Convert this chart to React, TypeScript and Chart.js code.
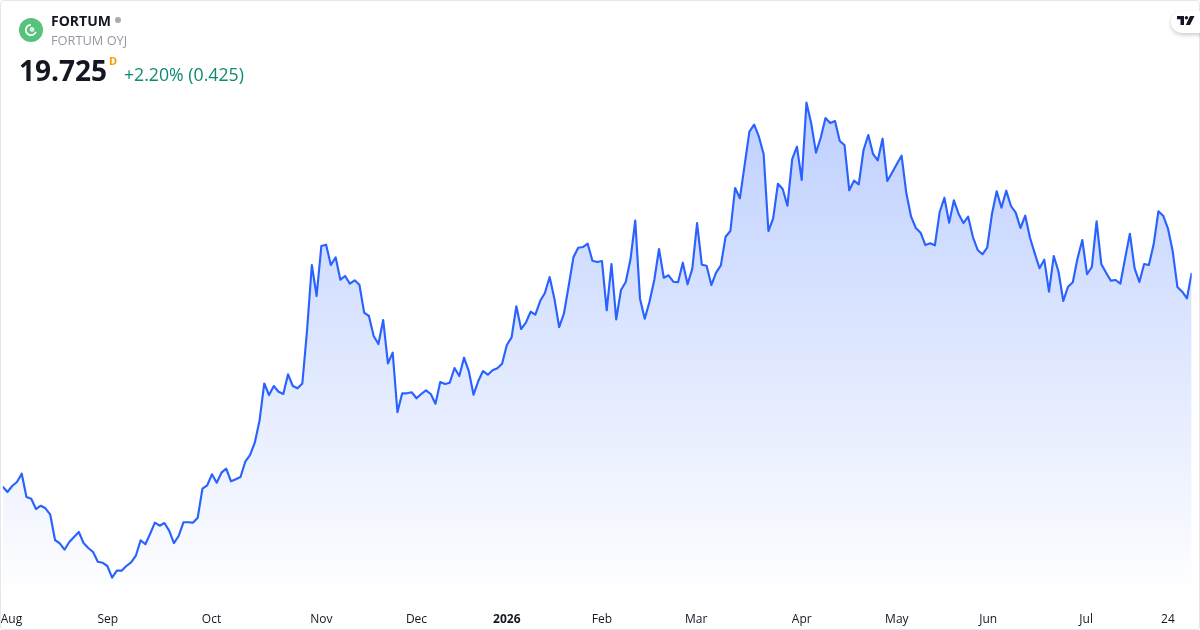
import React, { useEffect, useRef } from "react";
import { Chart, registerables } from "chart.js";

Chart.register(...registerables);

const SYMBOL = "FORTUM";
const COMPANY = "FORTUM OYJ";
const LAST_PRICE = "19.725";
const INTERVAL = "D";
const CHANGE = "+2.20% (0.425)";

const tickLabels = ["Aug", "Sep", "Oct", "Nov", "Dec", "2026", "Feb", "Mar", "Apr", "May", "Jun", "Jul", "24"];
const tickSessions = [1.85, 22.1, 43.9, 67, 87, 106, 126, 145.8, 168, 188, 207.2, 227.8, 245];

const prices2025Aug = [16.003, 15.91, 16.015, 16.085, 16.23, 15.822, 15.793, 15.612, 15.67, 15.625, 15.513, 15.07, 15.012, 14.9, 15.035, 15.122, 15.21, 15.017, 14.93, 14.86, 14.69, 14.673];
const prices2025Sep = [14.615, 14.41, 14.533, 14.533, 14.615, 14.68, 14.795, 15.065, 14.995, 15.18, 15.373, 15.32, 15.367, 15.233, 15.017, 15.14, 15.38, 15.38, 15.373, 15.46, 15.968, 16.027];
const prices2025Oct = [16.22, 16.073, 16.248, 16.318, 16.097, 16.132, 16.172, 16.44, 16.557, 16.773, 17.158, 17.809, 17.607, 17.765, 17.665, 17.625, 17.97, 17.765, 17.725, 17.809, 18.745, 19.882, 19.34];
const prices2025Nov = [20.215, 20.238, 19.882, 20.017, 19.625, 19.69, 19.555, 19.615, 19.538, 19.048, 18.99, 18.64, 18.5, 18.92, 18.162, 18.348, 17.305, 17.637, 17.637, 17.655];
const prices2025Dec = [17.55, 17.625, 17.69, 17.625, 17.455, 17.835, 17.8, 17.823, 18.08, 17.94, 18.26, 18.027, 17.613, 17.852, 18.027, 17.963, 18.04, 18.075, 18.155];
const prices2026Jan = [18.482, 18.617, 19.16, 18.762, 18.873, 19.065, 19.013, 19.252, 19.392, 19.672, 19.293, 18.797, 19.03, 19.515, 20.017, 20.185, 20.197, 20.255, 19.958, 19.935];
const prices2026Feb = [19.952, 19.09, 19.9, 18.932, 19.445, 19.585, 19.982, 20.658, 19.293, 18.943, 19.24, 19.62, 20.162, 19.66, 19.702, 19.59, 19.58, 19.923, 19.545, 19.818];
const prices2026Mar = [20.617, 19.888, 19.87, 19.532, 19.748, 19.877, 20.378, 20.477, 21.23, 21.05, 21.632, 22.215, 22.338, 22.128, 21.82, 20.477, 20.7, 21.305, 21.212, 20.92, 21.737, 21.953];
const prices2026Apr = [21.37, 22.723, 22.362, 21.848, 22.11, 22.455, 22.367, 22.402, 22.052, 21.982, 21.19, 21.358, 21.295, 21.895, 22.157, 21.825, 21.715, 22.093, 21.352, 21.498];
const prices2026May = [21.65, 21.795, 21.137, 20.728, 20.53, 20.448, 20.232, 20.262, 20.227, 20.805, 21.06, 20.623, 21.015, 20.775, 20.617, 20.728, 20.372, 20.145, 20.07];
const prices2026Jun = [20.185, 20.775, 21.172, 20.885, 21.183, 20.915, 20.798, 20.53, 20.745, 20.36, 20.087, 19.825, 19.975, 19.415, 20.04, 19.765, 19.252, 19.503, 19.58, 20.0, 20.32];
const prices2026Jul = [19.72, 19.847, 20.647, 19.895, 19.748, 19.608, 19.62, 19.555, 20.0, 20.43, 19.825, 19.585, 19.9, 19.882, 20.245, 20.822, 20.745, 20.525, 20.127, 19.497, 19.415, 19.3, 19.745];

const closes = [
  ...prices2025Aug, ...prices2025Sep, ...prices2025Oct, ...prices2025Nov, ...prices2025Dec,
  ...prices2026Jan, ...prices2026Feb, ...prices2026Mar, ...prices2026Apr, ...prices2026May,
  ...prices2026Jun, ...prices2026Jul,
];

const LINE = "#2962ff";
const FONT = '"Open Sans", sans-serif';

export default function App() {
  const ref = useRef<HTMLCanvasElement | null>(null);

  useEffect(() => {
    document.body.style.margin = "0";
    const canvas = ref.current;
    if (!canvas) return;
    const chart = new Chart(canvas, {
      type: "line",
      data: {
        datasets: [
          {
            data: closes.map((y, x) => ({ x, y })),
            borderColor: LINE,
            borderWidth: 2.15,
            pointRadius: 0,
            tension: 0,
            fill: "start",
            borderJoinStyle: "round",
            backgroundColor: (ctx: any) => {
              const { chart: c } = ctx;
              const area = c.chartArea;
              if (!area) return "rgba(41,98,255,0.1)";
              const top = c.scales.y.getPixelForValue(Math.max(...closes));
              const g = c.ctx.createLinearGradient(0, top, 0, area.bottom);
              g.addColorStop(0, "rgba(41,98,255,0.3)");
              g.addColorStop(1, "rgba(41,98,255,0)");
              return g;
            },
          },
        ],
      },
      options: {
        animation: false,
        responsive: false,
        parsing: false,
        layout: { padding: { left: 2.7, right: 8.3, top: 0, bottom: 0 } },
        plugins: { legend: { display: false }, tooltip: { enabled: false } },
        scales: {
          x: {
            type: "linear",
            min: 0,
            max: closes.length - 1,
            grid: { display: false },
            border: { display: false },
            afterBuildTicks: (s: any) => {
              s.ticks = tickSessions.map((value) => ({ value }));
            },
            afterFit: (s: any) => {
              s.height = 30;
              s.paddingLeft = 0;
              s.paddingRight = 0;
            },
            ticks: {
              autoSkip: false,
              maxRotation: 0,
              minRotation: 0,
              padding: 4,
              color: "#131722",
              font: (ctx: any) => ({
                family: FONT,
                size: 12,
                weight: ctx.tick && ctx.tick.label === "2026" ? "bold" : "normal",
              }),
              callback: (_v: any, i: number) => tickLabels[i],
            },
          },
          y: {
            display: false,
            min: 14.02,
            max: 24.52,
          },
        },
      },
    } as any);
    return () => chart.destroy();
  }, []);

  return (
    <div style={{ position: "relative", width: 1200, height: 630, overflow: "hidden", background: "#fff", fontFamily: FONT }}>
      <canvas ref={ref} width={1200} height={630} style={{ position: "absolute", left: 0, top: 0, display: "block" }} />
      <div style={{ position: "absolute", inset: 0, boxSizing: "border-box", border: "1px solid #e6e6e8", borderRadius: 4, pointerEvents: "none" }} />
      <svg width={24} height={24} viewBox="0 0 24 24" style={{ position: "absolute", left: 19, top: 18 }}>
        <circle cx={12} cy={12} r={12} fill="#57c27b" />
        <circle cx={12} cy={12} r={5.2} fill="none" stroke="#fff" strokeWidth={1.8} strokeDasharray="22 11" transform="rotate(20 12 12)" />
        <circle cx={13} cy={11.5} r={2.4} fill="#d9f2e1" />
      </svg>
      <div style={{ position: "absolute", left: 51, top: 11, fontSize: 14, lineHeight: "19px", fontWeight: 700, color: "#131722" }}>{SYMBOL}</div>
      <div style={{ position: "absolute", left: 115, top: 17, width: 6, height: 6, borderRadius: 3, background: "#a8abb3" }} />
      <div style={{ position: "absolute", left: 51, top: 32, fontSize: 12.8, lineHeight: "17px", color: "#9598a1" }}>{COMPANY}</div>
      <div style={{ position: "absolute", left: 19, top: 51, fontSize: 28, lineHeight: "38px", fontWeight: 700, color: "#131722" }}>{LAST_PRICE}</div>
      <div style={{ position: "absolute", left: 109, top: 54, fontSize: 11, lineHeight: "14px", fontWeight: 700, color: "#ff9800" }}>{INTERVAL}</div>
      <div style={{ position: "absolute", left: 124, top: 62, fontSize: 17.7, lineHeight: "24px", color: "#0c8a73" }}>{CHANGE}</div>
      <div style={{ position: "absolute", left: 1171, top: 11, width: 40, height: 22, borderRadius: 11, background: "#fff", boxShadow: "0 2px 4px rgba(0,0,0,0.2)" }} />
      <svg width={18} height={10} viewBox="0 0 18 10" style={{ position: "absolute", left: 1177, top: 16 }}>
        <path d="M0 0H7V9H3.5V3.2H0Z" fill="#131722" />
        <circle cx={9.4} cy={1.7} r={1.7} fill="#131722" />
        <path d="M13 0H17.5L13 9H8.8Z" fill="#131722" />
      </svg>
    </div>
  );
}
